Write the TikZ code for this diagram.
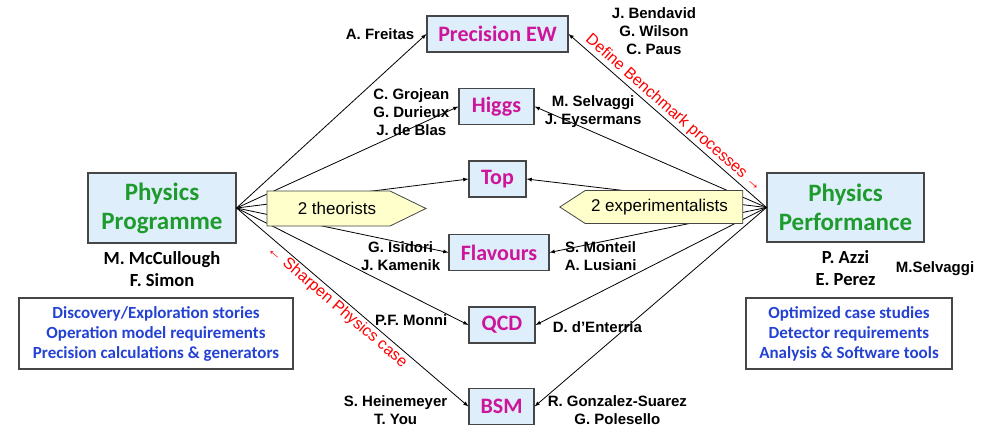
\documentclass[tikz,border=0pt]{standalone}
\usepackage{fontspec}
\setmainfont{Liberation Sans}
\newfontfamily\calib{Carlito}
\usetikzlibrary{positioning,shapes.symbols}
\definecolor{boxblue}{RGB}{222,238,250}
\definecolor{titlegreen}{RGB}{30,155,45}
\definecolor{topicpink}{RGB}{205,20,155}
\definecolor{noteblue}{RGB}{35,65,210}
\definecolor{tagyellow}{RGB}{255,255,204}
\definecolor{edgegray}{RGB}{70,70,70}

\begin{document}
\begin{tikzpicture}
   [x=1pt,y=-1pt,
    mainbox/.style={rectangle,draw=edgegray,fill=boxblue,line width=1.1pt,align=center,
	 text=titlegreen,font=\calib\bfseries\fontsize{25}{29}\selectfont,inner sep=0pt},
    topic/.style={rectangle,draw=edgegray,fill=boxblue,line width=1.1pt,minimum height=36pt,
	 text=topicpink,font=\calib\bfseries\fontsize{22}{24}\selectfont,inner sep=0pt},
    who/.style={align=center,inner sep=0pt,font=\bfseries\fontsize{15}{18}\selectfont},
    lead/.style={align=center,inner sep=0pt,font=\calib\bfseries\fontsize{18.5}{22}\selectfont},
    notes/.style={rectangle,draw=edgegray,line width=1.1pt,align=center,text=noteblue,
	 font=\calib\bfseries\fontsize{17}{20}\selectfont,inner sep=0pt},
    tag/.style={signal,draw=edgegray,fill=tagyellow,line width=0.8pt,
	 font=\fontsize{17}{20}\selectfont,inner sep=0pt},
    hint/.style={text=red,font=\fontsize{16}{18}\selectfont,sloped,inner sep=2pt},
    link/.style={-latex,line width=0.8pt}]

\useasboundingbox (0,0) rectangle (988,429);

\node [mainbox,minimum width=148pt,minimum height=70pt] (prog) at (162,208) {Physics\\Programme};
\node [mainbox,minimum width=157pt,minimum height=69pt] (perf) at (845.5,207.5) {Physics\\Performance};

\node [topic,minimum width=141pt] (prec) at (497.5,34) {Precision EW};
\node [topic,minimum width=75pt] (higgs) at (496.5,106.5) {Higgs};
\node [topic,minimum width=57pt] (top) at (497.5,179) {Top};
\node [topic,minimum width=100pt] (flav) at (499,252.5) {Flavours};
\node [topic,minimum width=66pt] (qcd) at (502,325) {QCD};
\node [topic,minimum width=65pt] (bsm) at (501.5,406.5) {BSM};

\foreach \t in {prec,higgs,top,flav,qcd,bsm} {
  \draw [link] (prog.east) -- (\t.west);
  \draw [link] (perf.west) -- (\t.east);
}

\node [tag,signal to=east,signal pointer angle=52,minimum width=159pt,minimum height=35pt] (theo) at (328.5,208.5) {\hspace*{17pt}2 theorists};
\node [tag,signal to=west,signal pointer angle=66,minimum width=183pt,minimum height=33pt] (expt) at (664,207) {2 experimentalists\hspace*{9pt}};

\path (perf.west) -- node [hint,above] {Define Benchmark processes →} (prec.east);
\path (prog.east) -- node [hint,below,pos=0.46] {← Sharpen Physics case} (bsm.west);

\node [who,left=12pt of prec.west] (freitas) {A. Freitas};
\node [who] (bendavid) at (654,31) {J. Bendavid\\G. Wilson\\C. Paus};
\node [who,left=9pt of higgs.west,yshift=-6pt] (grojean) {C. Grojean\\G. Durieux\\J. de Blas};
\node [who,right=10pt of higgs.east,yshift=-5pt] (selvaggi) {M. Selvaggi\\J. Eysermans};
\node [who,left=8pt of flav.west,yshift=-4pt] (isidori) {G. Isidori\\J. Kamenik};
\node [who,right=15pt of flav.east,yshift=-4pt] (monteil) {S. Monteil\\A. Lusiani};
\node [who,left=21pt of qcd.west,yshift=5pt] (monni) {P.F. Monni};
\node [who,right=17pt of qcd.east,yshift=-2pt] (enterria) {D. d'Enterria};
\node [who,left=21pt of bsm.west,yshift=-4pt] (heine) {S. Heinemeyer\\T. You};
\node [who,right=13pt of bsm.east,yshift=-4pt] (gonzalez) {R. Gonzalez-Suarez\\G. Polesello};

\node [lead,below=8pt of prog] (mccull) {M. McCullough\\F. Simon};
\node [lead,below=8pt of perf] (azzi) {P. Azzi\\E. Perez};
\node [who,right=20pt of azzi] (mselv) {M.Selvaggi};

\node [notes,minimum width=274pt,minimum height=71pt] (pnotes) at (156,333.5)
  {Discovery/Exploration stories\\Operation model requirements\\Precision calculations \& generators};
\node [notes,minimum width=206pt,minimum height=71pt] (fnotes) at (849,333.5)
  {Optimized case studies\\Detector requirements\\Analysis \& Software tools};
\end{tikzpicture}
\end{document}
